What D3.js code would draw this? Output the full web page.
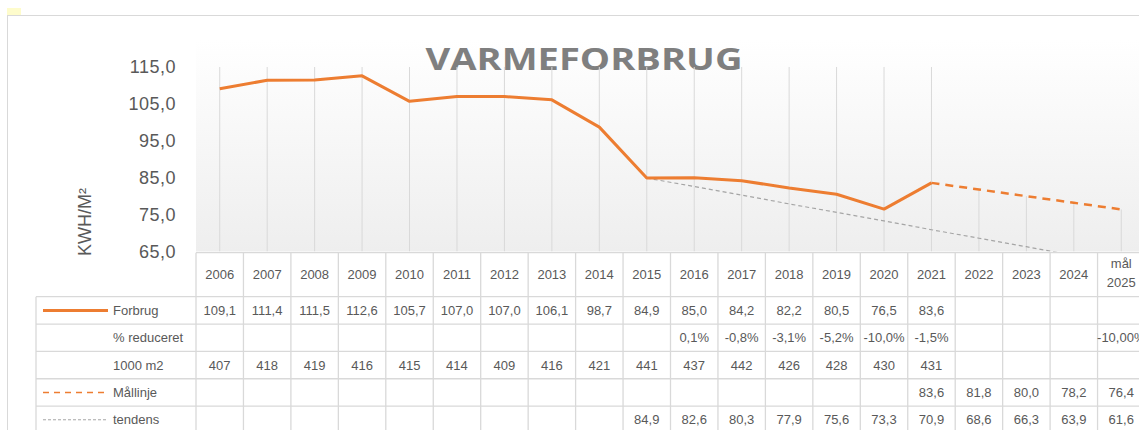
<!DOCTYPE html>
<html>
<head>
<meta charset="utf-8">
<script src="https://cdn.jsdelivr.net/npm/d3@7"></script>
<style>
  body { margin: 0; background: #fff; }
  svg { display: block; font-family: "Liberation Sans", Arial, sans-serif; }
</style>
</head>
<body>
<svg id="drawing_region"></svg>
<script>
// ---- data ----
const years = ["2006","2007","2008","2009","2010","2011","2012","2013","2014","2015",
               "2016","2017","2018","2019","2020","2021","2022","2023","2024","mål 2025"];
const forbrug = [109.1,111.4,111.5,112.6,105.7,107.0,107.0,106.1,98.7,84.9,
                 85.0,84.2,82.2,80.5,76.5,83.6,null,null,null,null];
const pctReduced = [null,null,null,null,null,null,null,null,null,null,
                    0.1,-0.8,-3.1,-5.2,-10.0,-1.5,null,null,null,-10.00];
const area1000 = [407,418,419,416,415,414,409,416,421,441,
                  437,442,426,428,430,431,null,null,null,null];
const maallinje = [null,null,null,null,null,null,null,null,null,null,
                   null,null,null,null,null,83.6,81.8,80.0,78.2,76.4];
const tendens = [null,null,null,null,null,null,null,null,null,84.9,
                 82.6,80.3,77.9,75.6,73.3,70.9,68.6,66.3,63.9,61.6];
const yTicks = [65,75,85,95,105,115];

const W = 1139, H = 430;
const plot = {left: 196, top: 67, bottom: 251.5, right: 196 + 20 * 47.45};
const tableTop = 252.7, headerH = 44, rowH = 27.35, legendLeft = 36;
const orange = "#ed7d31", grey = "#a5a5a5", gridc = "#d9d9d9", textc = "#595959";

const dk = d3.formatLocale({decimal: ",", thousands: ".", grouping: [3], currency: ["", " kr"], minus: "-"});
const f1 = dk.format(".1f");

const svg = d3.select('#drawing_region').attr('width', W).attr('height', H);

// chart frame + little yellow cell marker
svg.append('rect').attr('x', 7).attr('y', 8).attr('width', 14).attr('height', 7).attr('fill', '#fefccc');
svg.append('rect').attr('x', 7.5).attr('y', 15.5).attr('width', W + 20).attr('height', H + 20)
  .attr('fill', '#fff').attr('stroke', gridc);

// scales
const x = d3.scaleBand().domain(years).range([plot.left, plot.right]).padding(0);
const cx = d => x(d) + x.bandwidth() / 2;
const y = d3.scaleLinear().domain([65, 115]).range([plot.bottom, plot.top]);

// plot area gradient
const defs = svg.append('defs');
const grad = defs.append('linearGradient').attr('id', 'pg').attr('x1', 0).attr('y1', 0).attr('x2', 0).attr('y2', 1);
grad.append('stop').attr('offset', '0%').attr('stop-color', '#ffffff');
grad.append('stop').attr('offset', '100%').attr('stop-color', '#eeeeee');
defs.append('clipPath').attr('id', 'clip').append('rect')
  .attr('x', plot.left).attr('y', plot.top).attr('width', plot.right - plot.left).attr('height', plot.bottom - plot.top);

svg.append('rect').attr('x', plot.left).attr('y', 40)
  .attr('width', plot.right - plot.left).attr('height', plot.bottom - 40).attr('fill', 'url(#pg)');

// title
svg.append('text').attr('x', 584).attr('y', 70).attr('text-anchor', 'middle')
  .attr('font-family', '"Open Sans", "Liberation Sans", sans-serif')
  .attr('font-size', 30).attr('font-weight', 'bold').attr('fill', '#7f7f7f')
  .attr('textLength', 317).attr('lengthAdjust', 'spacingAndGlyphs')
  .text('VARMEFORBRUG');

// y axis labels
const yaxis = d3.axisLeft(y).tickValues(yTicks).tickFormat(f1).tickSize(0).tickPadding(0);
const yg = svg.append('g').attr('transform', `translate(176,0)`).call(yaxis);
yg.select('.domain').remove();
yg.selectAll('text').attr('font-size', 18).attr('fill', textc)
  .attr('font-family', '"Liberation Sans", Arial, sans-serif').attr('letter-spacing', 0.5);

svg.append('text').attr('transform', 'translate(91,222) rotate(-90)').attr('text-anchor', 'middle')
  .attr('font-size', 18).attr('fill', textc).text('KWH/M²');

const chart = svg.append('g').attr('clip-path', 'url(#clip)');

// drop lines from highest value of each category down to the axis
const tops = years.map((d, i) => d3.max([forbrug[i], area1000[i], maallinje[i], tendens[i]]));
chart.selectAll('line.drop').data(years).join('line').attr('class', 'drop')
  .attr('x1', d => cx(d)).attr('x2', d => cx(d))
  .attr('y1', (d, i) => Math.max(plot.top, y(tops[i]))).attr('y2', plot.bottom)
  .attr('stroke', gridc).attr('stroke-width', 1);

const line = arr => d3.line()
  .defined((d, i) => arr[i] != null)
  .x((d, i) => cx(years[i]))
  .y((d, i) => y(arr[i]))(years);

chart.append('path').attr('d', line(tendens)).attr('fill', 'none')
  .attr('stroke', grey).attr('stroke-width', 1.2).attr('stroke-dasharray', '4,3');
chart.append('path').attr('d', line(maallinje)).attr('fill', 'none')
  .attr('stroke', orange).attr('stroke-width', 2.5).attr('stroke-dasharray', '8,6');
chart.append('path').attr('d', line(forbrug)).attr('fill', 'none')
  .attr('stroke', orange).attr('stroke-width', 3).attr('stroke-linejoin', 'round');

// ---- data table ----
const rows = [
  {label: 'Forbrug', values: forbrug, fmt: f1, key: {stroke: orange, width: 3, dash: null}},
  {label: '% reduceret', values: pctReduced,
   fmt: (v, i) => dk.format(years[i].startsWith('mål') ? '.2f' : '.1f')(v) + '%', key: null},
  {label: '1000 m2', values: area1000, fmt: v => String(v), key: null},
  {label: 'Mållinje', values: maallinje, fmt: f1, key: {stroke: orange, width: 1.6, dash: '6,5'}},
  {label: 'tendens', values: tendens, fmt: f1, key: {stroke: grey, width: 1, dash: '3,2'}}
];
const bodyTop = tableTop + headerH;
const tbl = svg.append('g');

// grid lines
tbl.append('line').attr('x1', plot.left).attr('x2', W + 10).attr('y1', tableTop).attr('y2', tableTop);
d3.range(rows.length + 1).forEach(r => {
  tbl.append('line').attr('x1', legendLeft).attr('x2', W + 10)
    .attr('y1', bodyTop + r * rowH).attr('y2', bodyTop + r * rowH);
});
tbl.append('line').attr('x1', legendLeft).attr('x2', legendLeft).attr('y1', bodyTop).attr('y2', H + 10);
tbl.selectAll('line.col').data(years.concat(['end'])).join('line').attr('class', 'col')
  .attr('x1', d => d === 'end' ? plot.right : x(d)).attr('x2', d => d === 'end' ? plot.right : x(d))
  .attr('y1', tableTop).attr('y2', H + 10);
tbl.selectAll('line').attr('stroke', gridc).attr('stroke-width', 1.3);

// header
years.forEach(d => {
  const t = tbl.append('text').attr('x', cx(d)).attr('text-anchor', 'middle')
    .attr('font-size', 13).attr('fill', textc);
  if (d.startsWith('mål')) {
    const parts = d.split(' ');
    t.append('tspan').attr('x', cx(d)).attr('y', 268).text(parts[0]);
    t.append('tspan').attr('x', cx(d)).attr('y', 287).text(parts[1]);
  } else {
    t.attr('y', tableTop + headerH / 2 + 4.5).text(d);
  }
});

// body rows
rows.forEach((row, r) => {
  const ym = bodyTop + r * rowH + rowH / 2;
  if (row.key) {
    tbl.append('line').attr('x1', 43).attr('x2', 108).attr('y1', ym).attr('y2', ym)
      .attr('stroke', row.key.stroke).attr('stroke-width', row.key.width)
      .attr('stroke-dasharray', row.key.dash);
  }
  tbl.append('text').attr('x', 113).attr('y', ym + 4.5).attr('font-size', 13).attr('fill', textc).text(row.label);
  row.values.forEach((v, i) => {
    if (v == null) return;
    tbl.append('text').attr('x', cx(years[i])).attr('y', ym + 4.5).attr('text-anchor', 'middle')
      .attr('font-size', 13).attr('fill', textc).text(row.fmt(v, i));
  });
});
</script>
</body>
</html>
